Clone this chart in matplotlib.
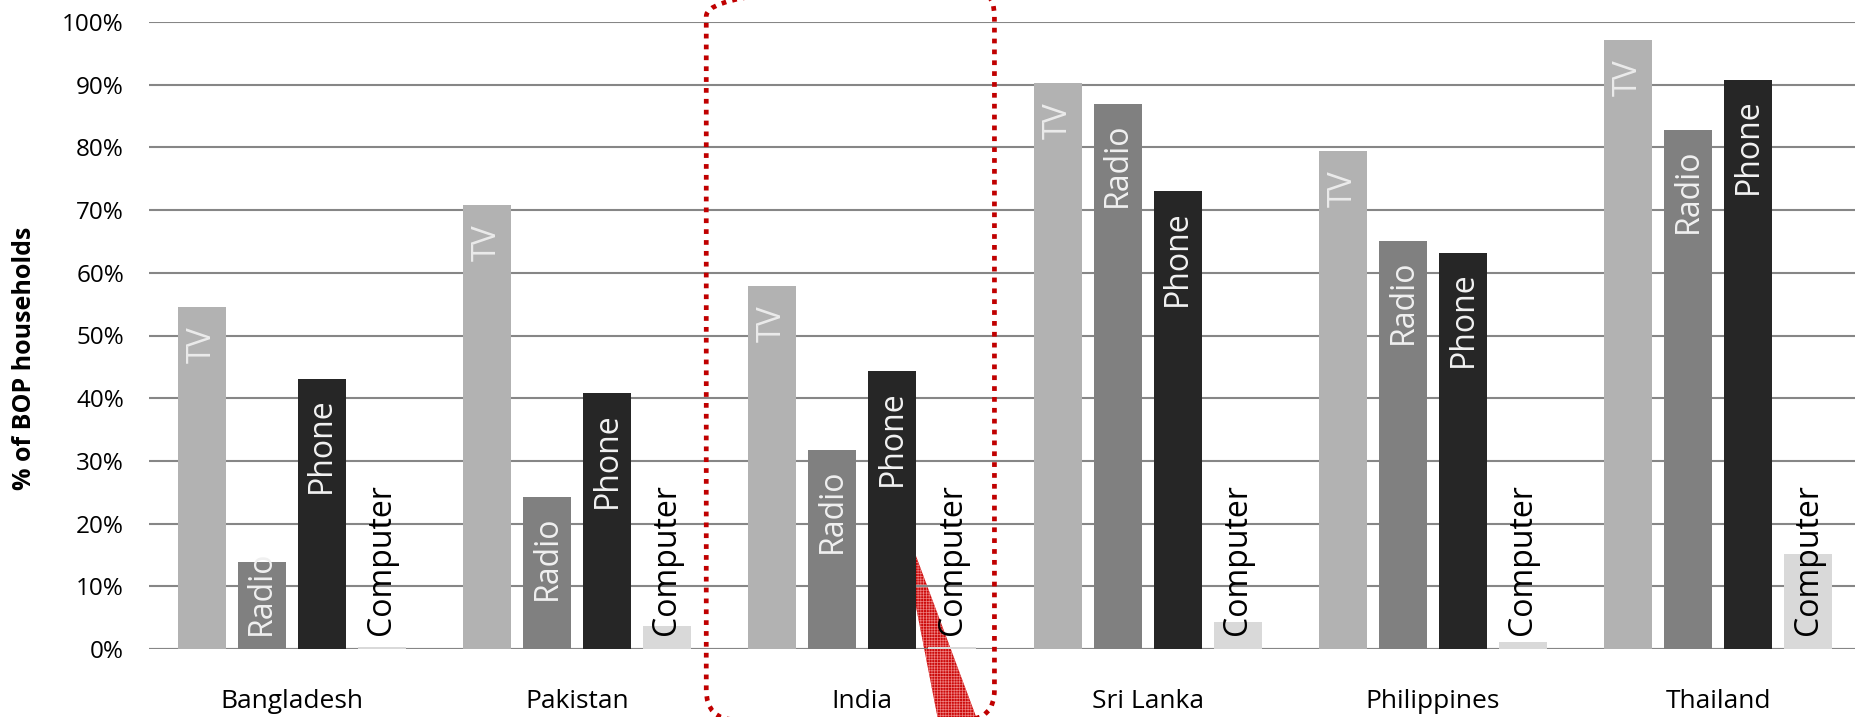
import matplotlib
matplotlib.use('Agg')
import matplotlib.pyplot as plt
import matplotlib.patches as mpatches
from matplotlib.transforms import IdentityTransform
import numpy as np

countries = ['Bangladesh', 'Pakistan', 'India', 'Sri Lanka', 'Philippines', 'Thailand']
devices = ['TV', 'Radio', 'Phone', 'Computer']
tv = [54.5, 70.8, 57.9, 90.2, 79.4, 97.1]
radio = [13.8, 24.3, 31.8, 87.0, 65.1, 82.8]
phone = [43.1, 40.8, 44.3, 73.0, 63.2, 90.8]
computer = [0.3, 3.6, 0.3, 4.3, 1.1, 15.2]

BAR_COLORS = ['#b2b2b2', '#808080', '#262626', '#d9d9d9']
LABEL_COLORS = ['#ebebeb', '#f0f0f0', '#f2f2f2', '#000000']
FONT = 'Open Sans'
plt.rcParams['hatch.linewidth'] = 0.5

fig = plt.figure(figsize=(18.55, 7.17), dpi=100)
ax = fig.add_axes([149 / 1855, 68 / 717, (1861 - 149) / 1855, 627 / 717])
ax.set_xlim(-0.5, 5.5)
ax.set_ylim(0, 1)

x = np.arange(len(countries))
pitch, width = 0.21, 0.168
series = [tv, radio, phone, computer]

bars_all = []
for i, vals in enumerate(series):
    offs = (i - 1.5) * pitch
    b = ax.bar(x + offs, np.array(vals) / 100, width=width, color=BAR_COLORS[i],
               zorder=2, linewidth=0)
    bars_all.append(b)

# grid + baseline
ax.set_yticks(np.arange(0, 1.01, 0.1))
ax.set_yticklabels([f'{v}%' for v in range(0, 101, 10)], fontsize=17.5, family=FONT)
ax.yaxis.grid(True, color='#868686', linewidth=1.5)
ax.set_axisbelow(True)
ax.axhline(0, color='#868686', linewidth=2.2, zorder=1.5)
for s in ax.spines.values():
    s.set_visible(False)
ax.tick_params(axis='y', length=0, pad=18)
ax.tick_params(axis='x', length=0, pad=29)
ax.set_xticks(x)
ax.set_xticklabels(countries, fontsize=19, family=FONT)

fig.text(25 / 1855, 0.5, '% of BOP households', rotation=90, ha='center', va='center',
         fontsize=18, fontweight='bold', family=FONT)

# device labels inside bars: at the top if they fit, otherwise from the base
fig.canvas.draw()
renderer = fig.canvas.get_renderer()
px_per_unit = ax.transData.transform((0, 1))[1] - ax.transData.transform((0, 0))[1]
pad_top = 19 / px_per_unit
pad_base = 14 / px_per_unit
for i, b in enumerate(bars_all):
    for rect in b:
        cx = rect.get_x() + rect.get_width() / 2
        top = rect.get_height()
        t = ax.text(cx, top - pad_top, devices[i], rotation=90, ha='center', va='top',
                    fontsize=23, family=FONT, color=LABEL_COLORS[i], zorder=3,
                    clip_on=False)
        h = t.get_window_extent(renderer).height / px_per_unit
        if top - pad_top - h < pad_base:
            t.set_y(pad_base)
            t.set_va('bottom')

# callout pointer coming from below the India group
tri = mpatches.Polygon([(2.116, 0.236), (2.429, -0.145), (2.279, -0.145)], closed=True,
                       facecolor='#cc0a0a', edgecolor='#ee8080', hatch='++++++',
                       linewidth=0, zorder=0.3, clip_on=False)
ax.add_patch(tri)

# dotted highlight around India
x0, y0 = ax.transData.transform((1.453, -0.113))
x1, y1 = ax.transData.transform((2.463, 1.057))
box = mpatches.FancyBboxPatch((x0, y0), x1 - x0, y1 - y0,
                              boxstyle='round,pad=0,rounding_size=30',
                              transform=IdentityTransform(), fill=False,
                              edgecolor='#c00000', linewidth=3.4,
                              linestyle=(0, (1, 1.3)), zorder=6, clip_on=False)
fig.add_artist(box)

fig.savefig('out.png', dpi=100)
